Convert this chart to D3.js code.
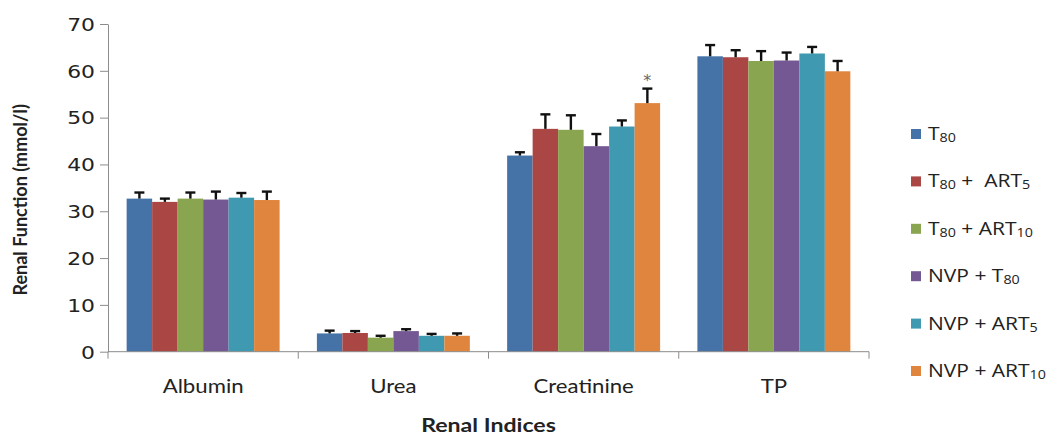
<!DOCTYPE html>
<html><head><meta charset="utf-8">
<script src="https://cdn.jsdelivr.net/npm/d3@7"></script>
<style>
html,body{margin:0;padding:0;background:#fff;}
svg{display:block;}
</style></head>
<body>
<svg id="chart" width="1056" height="438"></svg>
<script>
// ---- data ----
const categories = ["Albumin", "Urea", "Creatinine", "TP"];
const seriesNames = ["T_80", "T_80 +  ART_5", "T_80 + ART_10", "NVP + T_80", "NVP + ART_5", "NVP + ART_10"];
const seriesColors = ["#4572A7", "#AA4643", "#8AA54F", "#735893", "#3F99B1", "#E0853D"];
// values per series, in category order
const means = [
  [32.7, 3.9, 41.9, 63.1],
  [32.0, 4.0, 47.6, 62.9],
  [32.7, 3.0, 47.4, 62.1],
  [32.5, 4.4, 43.9, 62.2],
  [32.9, 3.4, 48.1, 63.7],
  [32.4, 3.4, 53.1, 59.9]
];
const errors = [
  [1.3, 0.6, 0.7, 2.4],
  [0.7, 0.4, 3.1, 1.5],
  [1.3, 0.4, 3.1, 2.1],
  [1.7, 0.4, 2.6, 1.7],
  [1.0, 0.4, 1.3, 1.4],
  [1.8, 0.5, 3.1, 2.2]
];
const yTicks = [0, 10, 20, 30, 40, 50, 60, 70];
const yTitle = "Renal Function (mmol/l)";
const xTitle = "Renal Indices";
const significance = [{category: "Creatinine", series: 5, mark: "*"}];

// ---- layout ----
const svg = d3.select("#chart");
const mLeft = 108, mRight = 869, mTop = 24, mBottom = 351.7;
const SX = 1.25; // horizontal stretch of text

const x0 = d3.scaleBand().domain(categories).range([mLeft, mRight]).padding(0);
const bw = x0.bandwidth();
const x1 = d3.scaleBand().domain(d3.range(seriesNames.length)).range([bw * 0.098, bw * 0.902]).padding(0);
const y = d3.scaleLinear().domain([0, 70]).range([mBottom, mTop]);

// y axis
const gy = svg.append("g").attr("transform", `translate(${mLeft},0)`)
  .call(d3.axisLeft(y).tickValues(yTicks).tickSize(8).tickSizeOuter(0).tickPadding(5));
gy.select(".domain").attr("stroke", "#8c8c8c");
gy.selectAll(".tick line").attr("stroke", "#8c8c8c");
gy.selectAll(".tick text")
  .attr("font-family", "DejaVu Sans, sans-serif").attr("font-size", 17.5).attr("fill", "#222")
  .attr("dy", "0.36em")
  .attr("transform", `scale(${SX},1)`)
  .attr("x", -13 / SX);

// bars
const data = [];
seriesNames.forEach((s, si) => categories.forEach((c, ci) => data.push({c, si, v: means[si][ci], e: errors[si][ci]})));

const gBars = svg.append("g");
gBars.selectAll("rect").data(data).join("rect")
  .attr("x", d => x0(d.c) + x1(d.si))
  .attr("width", x1.bandwidth())
  .attr("y", d => y(d.v))
  .attr("height", d => y(0) - y(d.v))
  .attr("fill", d => seriesColors[d.si]);

// error bars (upper only)
const gErr = svg.append("g").attr("stroke", "#111").attr("stroke-width", 2.4);
data.forEach(d => {
  const cx = x0(d.c) + x1(d.si) + x1.bandwidth() / 2;
  gErr.append("line").attr("x1", cx).attr("x2", cx).attr("y1", y(d.v)).attr("y2", y(d.v + d.e));
  gErr.append("line").attr("x1", cx - 5).attr("x2", cx + 5).attr("y1", y(d.v + d.e)).attr("y2", y(d.v + d.e));
});

// significance marks
significance.forEach(s => {
  const ci = categories.indexOf(s.category);
  const cx = x0(s.category) + x1(s.series) + x1.bandwidth() / 2;
  svg.append("text").attr("x", cx).attr("y", y(means[s.series][ci] + errors[s.series][ci]) - 3)
    .attr("text-anchor", "middle").attr("font-family", "DejaVu Sans, sans-serif")
    .attr("font-size", 16).attr("fill", "#666").text(s.mark);
});

// x axis
const gx = svg.append("g");
gx.append("line").attr("x1", mLeft).attr("x2", mRight).attr("y1", mBottom).attr("y2", mBottom).attr("stroke", "#8c8c8c");
const bounds = categories.map(c => x0(c)).concat([x0(categories[categories.length - 1]) + bw]);
gx.selectAll("line.t").data(bounds).join("line").attr("class", "t")
  .attr("x1", d => d).attr("x2", d => d).attr("y1", mBottom).attr("y2", mBottom + 7).attr("stroke", "#8c8c8c");
gx.selectAll("text").data(categories).join("text")
  .attr("transform", d => `translate(${x0(d) + bw / 2},${393}) scale(1.11,1)`)
  .attr("text-anchor", "middle").attr("font-family", "Lato, sans-serif").attr("font-size", 20).attr("fill", "#222")
  .text(d => d);

// titles
svg.append("text").attr("transform", `translate(${(mLeft + mRight) / 2},${432}) scale(${SX},1)`)
  .attr("text-anchor", "middle").attr("font-family", "Lato, sans-serif").attr("font-weight", "bold")
  .attr("font-size", 18.5).attr("fill", "#222").text(xTitle);
svg.append("text").attr("transform", `translate(${27},${(mTop + mBottom) / 2 + 12}) rotate(-90)`)
  .attr("text-anchor", "middle").attr("font-family", "Lato, sans-serif").attr("font-weight", "bold")
  .attr("font-size", 18).attr("fill", "#222").text(yTitle);

// legend
function richText(sel, label) {
  const parts = label.split(/(_\d+)/).filter(p => p.length);
  let shifted = 0;
  parts.forEach(p => {
    if (p.startsWith("_")) {
      sel.append("tspan").attr("font-size", "0.68em").attr("dy", 2 - shifted).text(p.slice(1));
      shifted = 2;
    } else {
      sel.append("tspan").attr("dy", -shifted).text(p);
      shifted = 0;
    }
  });
}
const lg = svg.append("g");
seriesNames.forEach((s, i) => {
  const yy = 134 + i * 47.4;
  lg.append("rect").attr("x", 911).attr("y", yy - 5).attr("width", 10).attr("height", 10).attr("fill", seriesColors[i]);
  const t = lg.append("text").attr("transform", `translate(928,${yy + 6}) scale(1.2,1)`)
    .attr("font-family", "Open Sans, sans-serif").attr("font-size", 17.5).attr("fill", "#222")
    .style("white-space", "pre");
  richText(t, s);
});
</script>
</body></html>
